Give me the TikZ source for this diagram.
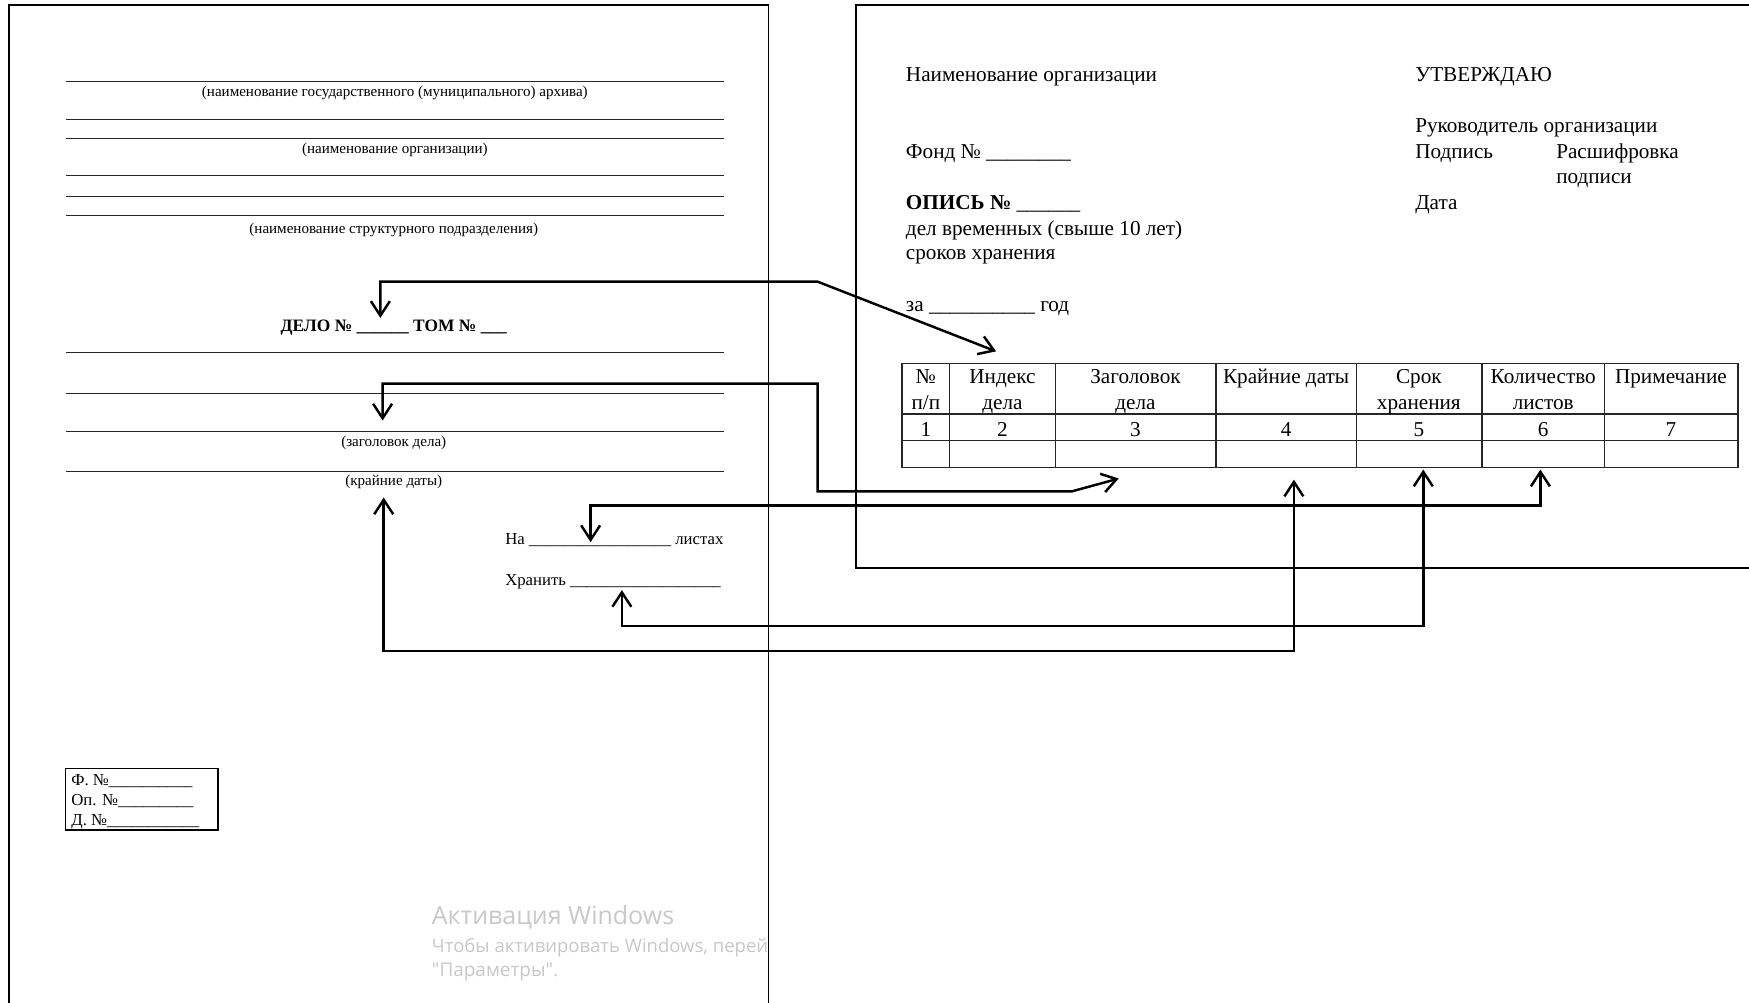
\documentclass[tikz,border=0pt]{standalone}
\usepackage{fontspec}
\setmainfont{Liberation Serif}
\newfontfamily\wmfont{Open Sans}
\usetikzlibrary{arrows.meta}
\definecolor{wmgray}{RGB}{200,200,200}
\begin{document}
\begin{tikzpicture}[x=1pt,y=-1pt,
  pageedge/.style={line width=1.6pt},
  fillline/.style={line width=0.9pt, black!85},
  tx/.style={inner sep=0pt, anchor=base west, font=\fontsize{19}{23}\selectfont},
  captx/.style={inner sep=0pt, anchor=base, font=\fontsize{13.5}{16}\selectfont},
  lf/.style={inner sep=0pt, anchor=base west, font=\fontsize{15}{18}\selectfont},
  bx/.style={inner sep=0pt, anchor=base west, font=\fontsize{15}{18}\selectfont},
  th/.style={inner sep=0pt, anchor=base, font=\fontsize{19}{23}\selectfont},
  tline/.style={line width=1.3pt, black!85},
  conn/.style={line width=2.2pt, {Straight Barb[length=13pt,width=17pt]}-{Straight Barb[length=13pt,width=17pt]}},
  wm/.style={inner sep=0pt, anchor=base west, text=wmgray}
]
\useasboundingbox (0,0) rectangle (1568,899);
\fill[white] (0,0) rectangle (1568,899);

% pages
\draw[pageedge] (8,899) -- (8,4.5) -- (689,4.5) -- (689,899);
\draw[pageedge] (1568,4.5) -- (767.3,4.5) -- (767.3,509.5) -- (1568,509.5);

% left page lines
\foreach \yy in {73.2,106.7,124,157.5,176.3,193.4,316,352.8,387,423}
  \draw[fillline] (59,\yy) -- (649.5,\yy);

\node[captx] (c1) at (354,86.7) {(наименование государственного (муниципального) архива)};
\node[captx] (c2) at (354,137.5) {(наименование организации)};
\node[captx] (c3) at (353,209.2) {(наименование структурного подразделения)};
\node[inner sep=0pt, anchor=base, font=\fontsize{15.6}{18}\selectfont\bfseries] (delo) at (353,297) {ДЕЛО № \_\_\_\_\_\_ ТОМ № \_\_\_};
\node[captx] (c4) at (353,400.5) {(заголовок дела)};
\node[captx] (c5) at (353,435) {(крайние даты)};
\node[lf] (na) at (452.8,487.8) {На \_\_\_\_\_\_\_\_\_\_\_\_\_\_\_\_\_ листах};
\node[lf] (hr) at (452.8,524.5) {Хранить \_\_\_\_\_\_\_\_\_\_\_\_\_\_\_\_\_\_};

% small box
\draw[line width=1.1pt] (58.4,689) rectangle (195.4,744);
\node[bx] (bf) at (63.8,703.8) {Ф. №\_\_\_\_\_\_\_\_\_\_};
\node[bx] (bo) at (63.8,721.7) {Оп. №\_\_\_\_\_\_\_\_\_};
\node[bx] (bd) at (63.8,740.5) {Д. №\_\_\_\_\_\_\_\_\_\_\_};

% watermark
\begin{scope}
\clip (380,790) rectangle (688,899);
\node[wm, font=\wmfont\fontsize{22.4}{26}\selectfont] (wm1) at (387,828.5) {Активация Windows};
\node[wm, font=\wmfont\fontsize{16.6}{20}\selectfont] (wm2) at (387,854) {Чтобы активировать Windows, перей};
\node[wm, font=\wmfont\fontsize{17}{20}\selectfont] (wm3) at (387,875.6) {"Параметры".};
\end{scope}

% right page text
\node[tx] (org) at (812,73.2) {Наименование организации};
\node[tx] (utv) at (1268.6,73.2) {УТВЕРЖДАЮ};
\node[tx] (ruk) at (1268.6,119) {Руководитель организации};
\node[tx] (podp) at (1268.6,142) {Подпись};
\node[tx] (rassh) at (1395,142) {Расшифровка};
\node[tx] (podp2) at (1395,164.4) {подписи};
\node[tx] (data) at (1268.6,187.7) {Дата};
\node[tx] (fond) at (812,142) {Фонд № \_\_\_\_\_\_\_\_};
\node[tx] (opis) at (812,187.7) {\textbf{ОПИСЬ №} \_\_\_\_\_\_};
\node[tx] (del) at (812,210.7) {дел временных (свыше 10 лет)};
\node[tx] (srok) at (812,233) {сроков хранения};
\node[tx] (za) at (812,279.5) {за \_\_\_\_\_\_\_\_\_\_ год};

% table
\draw[tline] (808.7,325.7) rectangle (1558.3,419);
\draw[tline] (808.7,371.2) -- (1558.3,371.2);
\draw[tline] (808.7,395) -- (1558.3,395);
\foreach \xx in {851,946.3,1090,1216,1328.5,1438.4}
  \draw[tline] (\xx,325.7) -- (\xx,419);

\node[th] (h1a) at (830,343.7) {№};
\node[th] (h1b) at (830,367) {п/п};
\node[th] (h2a) at (898.7,343.7) {Индекс};
\node[th] (h2b) at (898.7,367) {дела};
\node[th] (h3a) at (1018,343.7) {Заголовок};
\node[th] (h3b) at (1018,367) {дела};
\node[th] (h4a) at (1153,343.7) {Крайние даты};
\node[th] (h5a) at (1272,343.7) {Срок};
\node[th] (h5b) at (1272,367) {хранения};
\node[th] (h6a) at (1383.5,343.7) {Количество};
\node[th] (h6b) at (1383.5,367) {листов};
\node[th] (h7a) at (1498,343.7) {Примечание};
\foreach \xx/\nn in {830/1,898.7/2,1018/3,1153/4,1272/5,1383.5/6,1498/7}
  \node[th] (n\nn) at (\xx,391) {\nn};

% connector end points
\coordinate (p-delo) at (341,285);
\coordinate (p-idx) at (893,315);
\coordinate (p-zag) at (343,377);
\coordinate (p-zagt) at (1003,429);
\coordinate (p-kd) at (344,446);
\coordinate (p-kdt) at (1160,430);
\coordinate (p-hr) at (557.5,529);
\coordinate (p-hrt) at (1276,421);
\coordinate (p-na) at (529.5,486);
\coordinate (p-nat) at (1381,421);

% connectors
\draw[conn] (p-delo) -- (341,252.5) -- (733,252.5) -- (p-idx);
\draw[conn] (p-zag) -- (343,344) -- (733,344) -- (733,440.5) -- (961,440.5) -- (p-zagt);
\draw[conn] (p-kd) -- (344,583.5) -- (1160,583.5) -- (p-kdt);
\draw[conn] (p-hr) -- (557.5,561) -- (1276,561) -- (p-hrt);
\draw[conn] (p-na) -- (529.5,453) -- (1381,453) -- (p-nat);
\end{tikzpicture}
\end{document}
